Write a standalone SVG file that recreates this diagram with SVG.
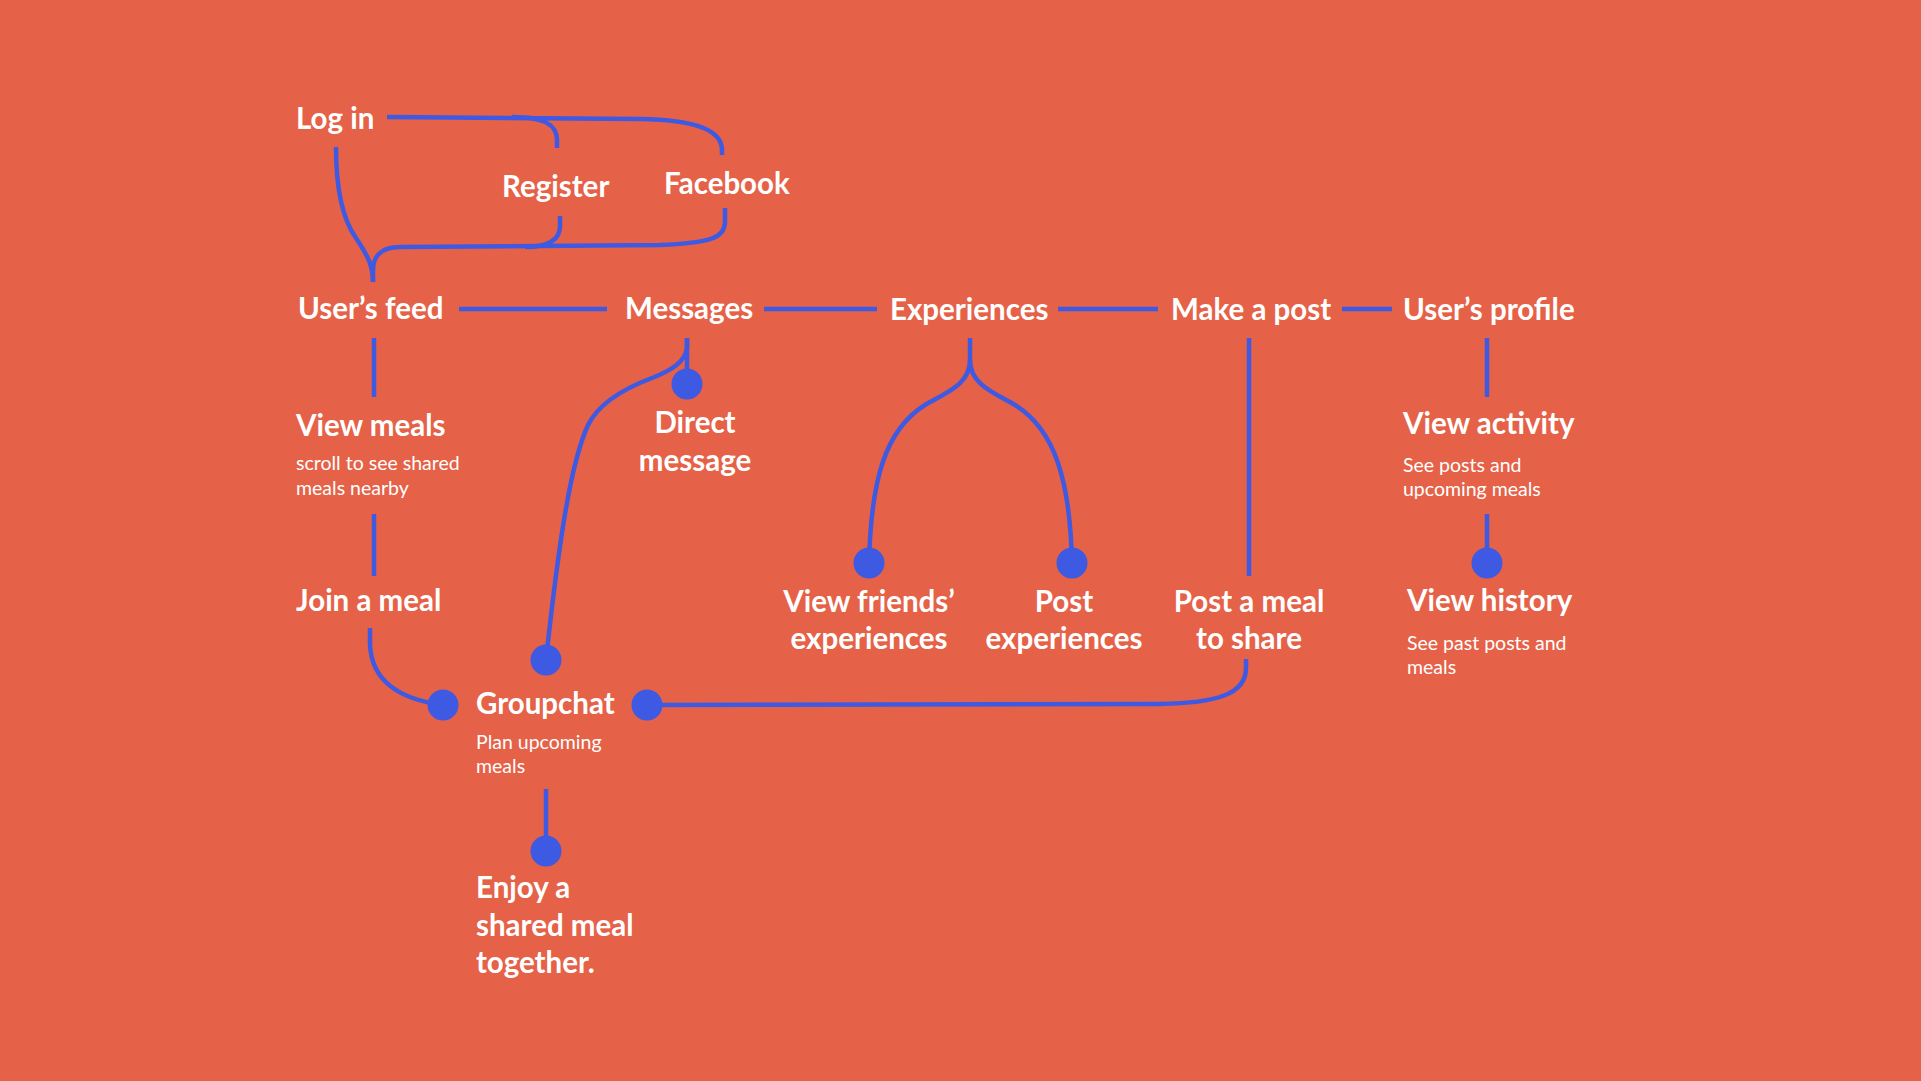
<svg xmlns="http://www.w3.org/2000/svg" width="1921" height="1081" viewBox="0 0 1921 1081">
<style>
.bg{fill:#E56248}
.c{fill:none;stroke:#3E5AE2;stroke-width:4.5;stroke-linecap:butt}
.dot{fill:#3E5AE2}
.t{font-family:Lato,"Open Sans","Liberation Sans",sans-serif;font-weight:700;font-size:29.5px;fill:#FFFFFF}
.s{font-family:Lato,"Open Sans","Liberation Sans",sans-serif;font-weight:400;font-size:19.5px;fill:#FFFFFF}
.m{text-anchor:middle}
</style>
<rect class="bg" x="0" y="0" width="1921" height="1081"/>
<g id="connectors">
<path class="c" d="M387,117 L640,119 Q722,120 722,150 L722,155"/>
<path class="c" d="M512,117 C545,117 557,125 557,140 L557,148"/>
<path class="c" d="M725,208 L725,222 C725,238 710,243 660,245 L400,247 C383,247 373,255 373,270 L373,282"/>
<path class="c" d="M560,216 L560,226 C560,240 548,247 525,247"/>
<path class="c" d="M336,147 C336,190 343,220 356,238 C368,256 373,266 373,282"/>
<path class="c" d="M459,309 L607,309"/>
<path class="c" d="M764,309 L877,309"/>
<path class="c" d="M1058,309 L1158,309"/>
<path class="c" d="M1342,309 L1392,309"/>
<path class="c" d="M374,338 L374,397"/>
<path class="c" d="M374,514 L374,576"/>
<path class="c" d="M370,628 L370,645 C372,685 405,700 443,705"/>
<path class="c" d="M687,338 L687,384"/>
<path class="c" d="M687,338 L687,348 C685,362 672,370 652,378 C620,390 598,405 588,425 C572,460 560,530 546,660"/>
<path class="c" d="M970,338 L970,360 C970,385 945,393 925,405 C885,430 871,480 869,563"/>
<path class="c" d="M970,360 C970,385 995,393 1015,405 C1055,430 1070,480 1072,563"/>
<path class="c" d="M1249,338 L1249,576"/>
<path class="c" d="M1246,659 L1246,668 C1246,695 1215,703 1160,704 L647,705"/>
<path class="c" d="M1487,338 L1487,397"/>
<path class="c" d="M1487,514 L1487,563"/>
<path class="c" d="M546,789 L546,851"/>
</g>
<g id="login"><text class="t" x="296" y="129">Log in</text></g>
<g id="register"><text class="t" x="502" y="197">Register</text></g>
<g id="facebook"><text class="t" x="664" y="194">Facebook</text></g>
<g id="users-feed"><text class="t" x="298" y="319">User’s feed</text></g>
<g id="messages"><text class="t" x="625" y="319">Messages</text></g>
<g id="experiences"><text class="t" x="890" y="320">Experiences</text></g>
<g id="make-post"><text class="t" x="1171" y="320">Make a post</text></g>
<g id="users-profile"><text class="t" x="1403" y="320">User’s profile</text></g>
<g id="view-meals"><text class="t" x="296" y="436">View meals</text><text class="s" x="296" y="470">scroll to see shared</text><text class="s" x="296" y="495">meals nearby</text></g>
<g id="direct-message"><circle class="dot" cx="687" cy="384" r="15.5"/><text class="t m" x="695" y="433">Direct</text><text class="t m" x="695" y="471">message</text></g>
<g id="view-activity"><text class="t" x="1403" y="434">View activity</text><text class="s" x="1403" y="472">See posts and</text><text class="s" x="1403" y="496">upcoming meals</text></g>
<g id="join-meal"><text class="t" x="296" y="611">Join a meal</text></g>
<g id="view-friends"><circle class="dot" cx="869" cy="563" r="15.5"/><text class="t m" x="869" y="612">View friends’</text><text class="t m" x="869" y="649">experiences</text></g>
<g id="post-experiences"><circle class="dot" cx="1072" cy="563" r="15.5"/><text class="t m" x="1064" y="612">Post</text><text class="t m" x="1064" y="649">experiences</text></g>
<g id="post-meal"><text class="t m" x="1249" y="612">Post a meal</text><text class="t m" x="1249" y="649">to share</text></g>
<g id="view-history"><circle class="dot" cx="1487" cy="563" r="15.5"/><text class="t" x="1407" y="611">View history</text><text class="s" x="1407" y="650">See past posts and</text><text class="s" x="1407" y="674">meals</text></g>
<g id="groupchat"><circle class="dot" cx="546" cy="660" r="15.5"/><circle class="dot" cx="443" cy="705" r="15.5"/><circle class="dot" cx="647" cy="705" r="15.5"/><text class="t" x="476" y="714">Groupchat</text><text class="s" x="476" y="749">Plan upcoming</text><text class="s" x="476" y="773">meals</text></g>
<g id="enjoy"><circle class="dot" cx="546" cy="851" r="15.5"/><text class="t" x="476" y="898">Enjoy a</text><text class="t" x="476" y="936">shared meal</text><text class="t" x="476" y="973">together.</text></g>
</svg>
